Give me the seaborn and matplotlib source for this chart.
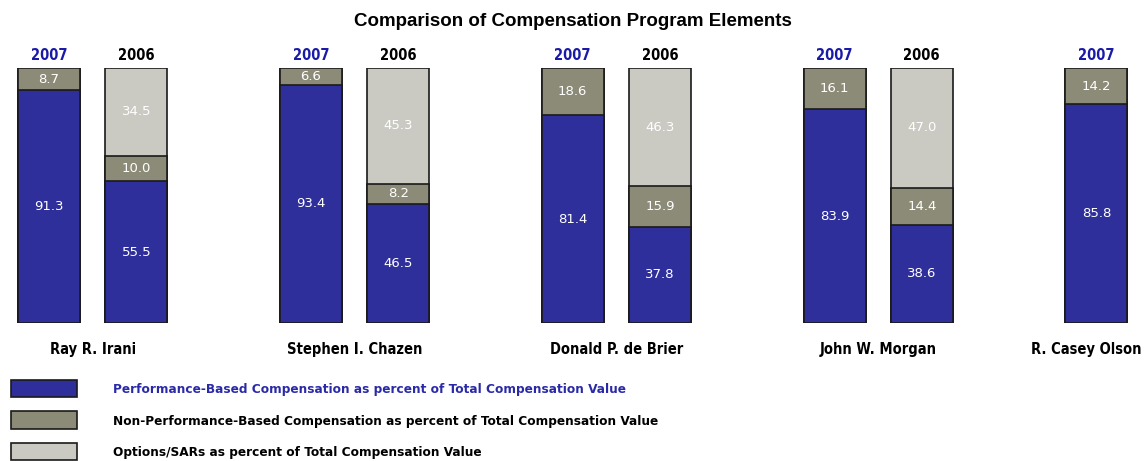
import matplotlib
matplotlib.use("Agg")
import matplotlib.pyplot as plt
from matplotlib.patches import Patch
import seaborn as sns
import pandas as pd
import numpy as np

# ---- data ----
executives = ["Ray R. Irani", "Stephen I. Chazen", "Donald P. de Brier", "John W. Morgan", "R. Casey Olson"]
years = ["2007", "2006"]
perf_2007 = [91.3, 93.4, 81.4, 83.9, 85.8]
nonperf_2007 = [8.7, 6.6, 18.6, 16.1, 14.2]
options_2007 = [0.0, 0.0, 0.0, 0.0, 0.0]
perf_2006 = [55.5, 46.5, 37.8, 38.6, None]
nonperf_2006 = [10.0, 8.2, 15.9, 14.4, None]
options_2006 = [34.5, 45.3, 46.3, 47.0, None]
legend_labels = [
    "Performance-Based Compensation as percent of Total Compensation Value",
    "Non-Performance-Based Compensation as percent of Total Compensation Value",
    "Options/SARs as percent of Total Compensation Value",
]
title = "Comparison of Compensation Program Elements"

# ---- styling ----
C_PERF = "#2f2f9c"
C_NON = "#8c8b78"
C_OPT = "#cacac2"
YEAR_COLORS = {"2007": "#1a1aa8", "2006": "#000000"}
NARROW = ["DejaVu Sans"]

sns.set_theme(style="white")
plt.rcParams["font.family"] = ["Liberation Sans", "DejaVu Sans"]
plt.rcParams["text.color"] = "black"

rows = []
for gi, name in enumerate(executives):
    for yi, yr in enumerate(years):
        if yr == "2007":
            p, n, o = perf_2007[gi], nonperf_2007[gi], options_2007[gi]
        else:
            p, n, o = perf_2006[gi], nonperf_2006[gi], options_2006[gi]
        if p is None:
            continue
        rows.append(dict(name=name, year=yr, pos=gi * 3 + yi, perf=p, non=n, opt=o))
df = pd.DataFrame(rows)
df["lvl1"] = df["perf"]
df["lvl2"] = df["perf"] + df["non"]
df["lvl3"] = df["perf"] + df["non"] + df["opt"]

fig = plt.figure(figsize=(11.45, 4.61), dpi=100)
ax = fig.add_axes([5.4 / 1145, (461 - 323) / 461, (1140 - 5.4) / 1145, (323 - 68) / 461])

bw = 0.71
for col, colr in [("lvl3", C_OPT), ("lvl2", C_NON), ("lvl1", C_PERF)]:
    sns.barplot(data=df, x="pos", y=col, native_scale=True, color=colr, saturation=1,
                width=bw, edgecolor="#1a1a1a", linewidth=1.2, ax=ax, errorbar=None)

ax.set_xlim(-0.5, 12.5)
ax.set_ylim(0, 100)
ax.axis("off")

# value labels
for _, r in df.iterrows():
    segs = [(0, r["perf"]), (r["perf"], r["non"]), (r["perf"] + r["non"], r["opt"])]
    for base, h in segs:
        if h and h > 0:
            ax.text(r["pos"], base + h / 2, f"{h:.1f}", ha="center", va="center",
                    color="white", fontsize=9.5, family=["DejaVu Sans"])
    ax.text(r["pos"], 101.8, r["year"], ha="center", va="bottom", color=YEAR_COLORS[r["year"]],
            fontsize=10.5, fontweight="bold", family=NARROW, fontstretch="condensed", clip_on=False)

for gi, name in enumerate(executives):
    has2006 = perf_2006[gi] is not None
    if has2006:
        ax.text(gi * 3 + 0.5, -10.3, name, ha="center", va="center", fontsize=10.5, fontweight="bold",
                family=NARROW, fontstretch="condensed", color="black", clip_on=False)
    else:
        ax.text(gi * 3 + 0.52, -10.3, name, ha="right", va="center", fontsize=10.5, fontweight="bold",
                family=NARROW, fontstretch="condensed", color="black", clip_on=False)

fig.text(0.5, 1 - 22 / 461, title, ha="center", va="center", fontsize=13.5, fontweight="bold",
         color="black")

handles = [Patch(facecolor=c, edgecolor="#1a1a1a", linewidth=1.2) for c in (C_PERF, C_NON, C_OPT)]
leg = fig.legend(handles, legend_labels, loc="upper left", bbox_to_anchor=(11 / 1145, 1 - 380 / 461),
                 frameon=False, handlelength=4.9, handleheight=1.6, handletextpad=2.7,
                 labelspacing=1.05, prop=dict(family=NARROW, weight="bold", size=9.7, stretch="condensed"),
                 borderpad=0, borderaxespad=0)
for t, c in zip(leg.get_texts(), ["#2a2aa8", "black", "black"]):
    t.set_color(c)

fig.savefig("out.png", dpi=100, facecolor="white")
